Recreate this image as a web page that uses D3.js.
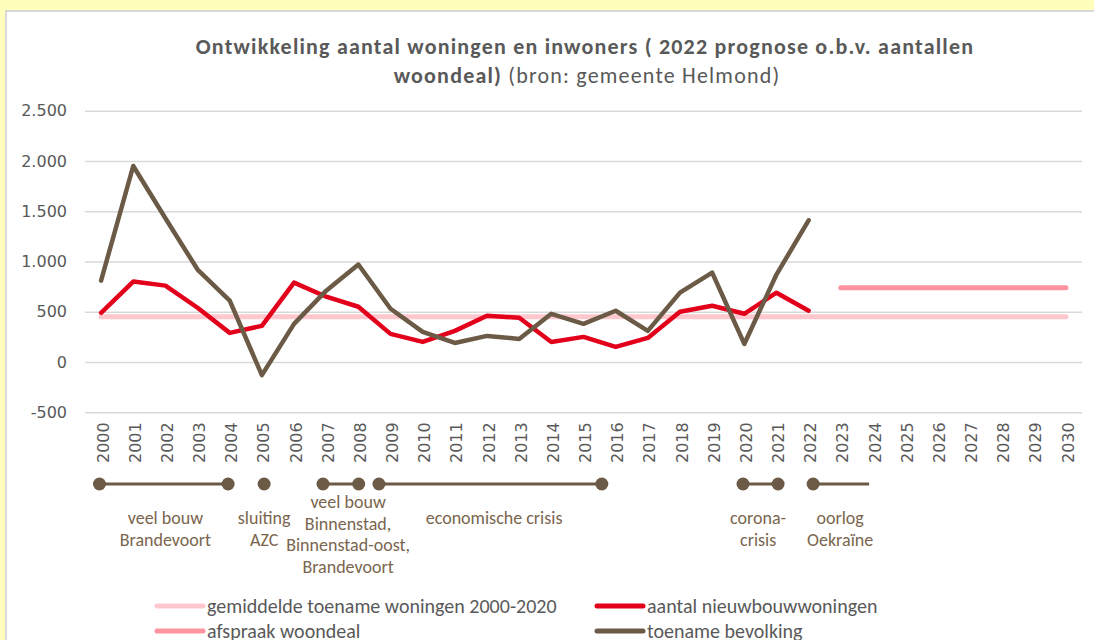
<!DOCTYPE html>
<html>
<head>
<meta charset="utf-8">
<script src="https://cdn.jsdelivr.net/npm/d3@7"></script>
<style>
  body { margin: 0; background: #ffffbb; }
  svg { display: block; }
</style>
</head>
<body>
<div id="chart"></div>
<script>
// categorieën (x-as)
const jaren = ["2000", "2001", "2002", "2003", "2004", "2005", "2006", "2007", "2008", "2009",
  "2010", "2011", "2012", "2013", "2014", "2015", "2016", "2017", "2018", "2019",
  "2020", "2021", "2022", "2023", "2024", "2025", "2026", "2027", "2028", "2029", "2030"];

// reeksen
const nieuwbouw = [490, 800, 760, 540, 290, 360, 790, 650, 550, 280, 200, 310, 460, 440, 200, 250,
  150, 240, 500, 560, 480, 690, 510];
const bevolking = [810, 1950, 1430, 920, 610, -130, 380, 710, 970, 530, 300, 190, 260, 230, 480, 380,
  510, 310, 690, 890, 180, 870, 1410];
const gemiddeldeJaren = ["2000", "2030"];
const gemiddeldeWaarden = [450, 450];
const woondealJaren = ["2023", "2030"];
const woondealWaarden = [740, 740];

// y-as
const yTicks = [-500, 0, 500, 1000, 1500, 2000, 2500];

// tijdlijn onder de grafiek (jaartallen, met de hand geplaatst in het origineel)
const gebeurtenisVan = [1999.95, 2005.07, 2006.9, 2008.64, 2019.96, 2022.14];
const gebeurtenisTot = [2003.95, null, 2008.01, 2015.57, 2021.05, 2023.88];
const gebeurtenisEindpunt = [true, false, true, true, true, false];
const gebeurtenisLabelJaar = [2002.0, 2005.07, 2007.68, 2012.22, 2020.43, 2022.98];
const gebeurtenisLabels = [
  ["veel bouw", "Brandevoort"],
  ["sluiting", "AZC"],
  ["veel bouw", "Binnenstad,", "Binnenstad-oost,", "Brandevoort"],
  ["economische crisis"],
  ["corona-", "crisis"],
  ["oorlog", "Oekraïne"]
];

const legendaNamen = ["gemiddelde toename woningen 2000-2020", "aantal nieuwbouwwoningen",
  "afspraak woondeal", "toename bevolking"];
const legendaKleuren = ["#ffc7ce", "#e3001b", "#ff939e", "#6b5a46"];

const width = 1094, height = 640;
const tekstGrijs = "#595959";
const bruin = "#6b5a46";
const calibri = "Carlito, Lato, sans-serif";

const svg = d3.select("#chart").append("svg")
  .attr("width", width)
  .attr("height", height);

// achtergrond en kader
svg.append("rect").attr("width", width).attr("height", height).attr("fill", "#ffffbb");
svg.append("rect").attr("x", 6).attr("y", 11).attr("width", width).attr("height", height)
  .attr("fill", "#fff").attr("stroke", "#d9d9d9").attr("stroke-width", 2);

const x = d3.scaleBand().domain(jaren).range([85, 1082]);
const bw = x.bandwidth();
const xJaar = d3.scaleLinear().domain([2000, 2030]).range([x("2000") + bw / 2, x("2030") + bw / 2]);
const y = d3.scaleLinear().domain([-500, 2500]).range([412.3, 110.7]);

const nl = d3.formatLocale({ decimal: ",", thousands: ".", grouping: [3], currency: ["", ""], minus: "-" });

// titel
const titel = svg.append("text")
  .attr("text-anchor", "middle")
  .style("font-family", calibri)
  .style("font-size", "22px")
  .style("letter-spacing", "1.2px")
  .attr("fill", tekstGrijs);
titel.append("tspan").attr("x", 585).attr("y", 54).style("font-weight", "bold")
  .text("Ontwikkeling aantal woningen en inwoners ( 2022 prognose o.b.v. aantallen");
const regel2 = titel.append("tspan").attr("x", 587).attr("y", 83);
regel2.append("tspan").style("font-weight", "bold").text("woondeal)");
regel2.append("tspan").text(" (bron: gemeente Helmond)");

// y-as met rasterlijnen
const yAs = svg.append("g")
  .attr("transform", "translate(85,0)")
  .call(d3.axisLeft(y).tickValues(yTicks).tickSize(-(1082 - 85)).tickPadding(18).tickFormat(nl.format(",d")));
yAs.select(".domain").remove();
yAs.selectAll("line").attr("stroke", "#d9d9d9").attr("stroke-width", 1.5);
yAs.selectAll("text")
  .style("font-family", "DejaVu Sans, sans-serif")
  .style("font-size", "16px")
  .attr("fill", tekstGrijs);

// x-as
const xAs = svg.append("g")
  .attr("transform", `translate(0,${y(-500)})`)
  .call(d3.axisBottom(x).tickSize(0));
xAs.select(".domain").remove();
xAs.selectAll("text")
  .attr("transform", "rotate(-90)")
  .attr("text-anchor", "end")
  .attr("x", -10)
  .attr("y", 2)
  .attr("dy", "0.35em")
  .style("font-family", "DejaVu Sans, sans-serif")
  .style("font-size", "16px")
  .attr("fill", tekstGrijs);

// lijnen
const lijn = d3.line()
  .x((d) => x(d.jaar) + bw / 2)
  .y((d) => y(d.waarde));

function reeks(jr, waarden) {
  return waarden.map((v, i) => ({ jaar: jr[i], waarde: v }));
}

svg.append("path")
  .datum(reeks(gemiddeldeJaren, gemiddeldeWaarden))
  .attr("d", lijn)
  .attr("fill", "none")
  .attr("stroke", legendaKleuren[0])
  .attr("stroke-width", 5)
  .attr("stroke-linecap", "round");

svg.append("path")
  .datum(reeks(woondealJaren, woondealWaarden))
  .attr("d", lijn)
  .attr("fill", "none")
  .attr("stroke", legendaKleuren[2])
  .attr("stroke-width", 5)
  .attr("stroke-linecap", "round");

svg.append("path")
  .datum(reeks(jaren, nieuwbouw))
  .attr("d", lijn)
  .attr("fill", "none")
  .attr("stroke", legendaKleuren[1])
  .attr("stroke-width", 4.5)
  .attr("stroke-linejoin", "round")
  .attr("stroke-linecap", "round");

svg.append("path")
  .datum(reeks(jaren, bevolking))
  .attr("d", lijn)
  .attr("fill", "none")
  .attr("stroke", legendaKleuren[3])
  .attr("stroke-width", 4.5)
  .attr("stroke-linejoin", "round")
  .attr("stroke-linecap", "round");

// tijdlijn
const tijdY = 484;
const tijdlijn = svg.append("g");
gebeurtenisVan.forEach((van, i) => {
  const tot = gebeurtenisTot[i];
  if (tot !== null) {
    tijdlijn.append("line")
      .attr("x1", xJaar(van)).attr("x2", xJaar(tot))
      .attr("y1", tijdY).attr("y2", tijdY)
      .attr("stroke", bruin).attr("stroke-width", 3);
  }
  tijdlijn.append("circle").attr("cx", xJaar(van)).attr("cy", tijdY).attr("r", 6.5).attr("fill", bruin);
  if (tot !== null && gebeurtenisEindpunt[i]) {
    tijdlijn.append("circle").attr("cx", xJaar(tot)).attr("cy", tijdY).attr("r", 6.5).attr("fill", bruin);
  }
  const regels = gebeurtenisLabels[i];
  const top = regels.length > 2 ? 508 : 524;
  const t = tijdlijn.append("text")
    .attr("text-anchor", "middle")
    .style("font-family", calibri)
    .style("font-size", "18px")
    .attr("fill", "#7a654e");
  regels.forEach((r, j) => {
    t.append("tspan").attr("x", xJaar(gebeurtenisLabelJaar[i])).attr("y", top + j * 21.7).text(r);
  });
});

// legenda
const legX = [157, 597];
const legY = [606, 631];
legendaNamen.forEach((naam, i) => {
  const lx = legX[i % 2], ly = legY[Math.floor(i / 2)];
  const g = svg.append("g").attr("transform", `translate(${lx},${ly})`);
  g.append("line").attr("x1", 0).attr("x2", 46).attr("y1", 0).attr("y2", 0)
    .attr("stroke", legendaKleuren[i]).attr("stroke-width", 5).attr("stroke-linecap", "round");
  g.append("text").attr("x", 50).attr("y", 0).attr("dy", "0.35em")
    .style("font-family", calibri)
    .style("font-size", "20px")
    .attr("fill", tekstGrijs)
    .text(naam);
});
</script>
</body>
</html>
